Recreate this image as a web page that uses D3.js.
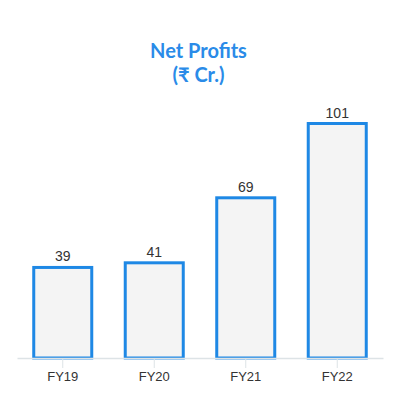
<!DOCTYPE html>
<html>
<head>
<meta charset="utf-8">
<script src="https://cdn.jsdelivr.net/npm/d3@7"></script>
<style>
  html, body { margin: 0; padding: 0; background: #fff; }
</style>
</head>
<body>
<div id="chart"></div>
<script>
const years = ["FY19", "FY20", "FY21", "FY22"];
const profits = [39, 41, 69, 101];
const titleLines = ["Net Profits", "(₹ Cr.)"];

const width = 409, height = 399;
const left = 17, right = 383, baseY = 358, topY = 123.5;

const svg = d3.select("#chart")
  .append("svg")
  .attr("width", width)
  .attr("height", height);

// title
svg.append("text")
  .attr("x", 198.5)
  .attr("y", 58)
  .attr("text-anchor", "middle")
  .style("font-family", "Lato")
  .style("font-weight", "bold")
  .style("font-size", "20px")
  .attr("fill", "#2a8be8")
  .selectAll("tspan")
  .data(titleLines)
  .enter()
  .append("tspan")
  .attr("x", 198.5)
  .attr("dy", (d, i) => i === 0 ? 0 : 24)
  .text(d => d);

const x = d3.scaleBand()
  .domain(years)
  .range([left, right])
  .paddingInner(0.366)
  .paddingOuter(0.183);

const y = d3.scaleLinear()
  .domain([0, d3.max(profits)])
  .range([baseY, topY]);

const data = years.map((d, i) => ({ year: d, value: profits[i] }));

// bars
svg.selectAll(".bar")
  .data(data)
  .enter()
  .append("rect")
  .attr("class", "bar")
  .attr("x", d => x(d.year))
  .attr("y", d => y(d.value))
  .attr("width", x.bandwidth())
  .attr("height", d => baseY - y(d.value))
  .attr("fill", "#f4f4f4")
  .attr("stroke", "#1e88e5")
  .attr("stroke-width", 3);

// value labels
svg.selectAll(".val")
  .data(data)
  .enter()
  .append("text")
  .attr("x", d => x(d.year) + x.bandwidth() / 2)
  .attr("y", d => y(d.value) - 6)
  .attr("text-anchor", "middle")
  .style("font-family", "Liberation Sans, Arial, sans-serif")
  .style("font-size", "14px")
  .attr("fill", "#333")
  .text(d => d.value);

// x axis
const axis = svg.append("g")
  .attr("transform", "translate(0," + baseY + ")")
  .call(d3.axisBottom(x).tickSize(10).tickPadding(4).tickSizeOuter(0));

axis.select(".domain").attr("stroke", "#dde3e6").attr("stroke-width", 1.5);
axis.selectAll(".tick line").attr("stroke", "#dde3e6");
axis.selectAll(".tick text")
  .style("font-family", "Liberation Sans, Arial, sans-serif")
  .style("font-size", "13px")
  .attr("fill", "#333");
</script>
</body>
</html>
